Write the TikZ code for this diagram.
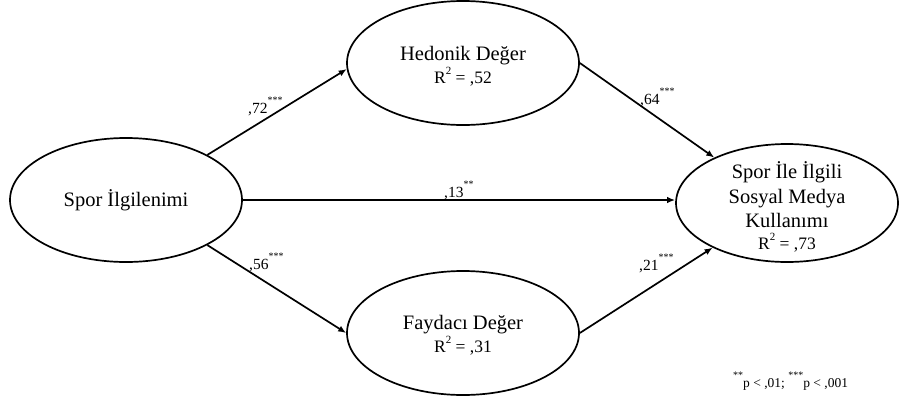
\documentclass[tikz,border=0pt]{standalone}
\usepackage{fontspec}
\setmainfont{Liberation Serif}
\usetikzlibrary{arrows.meta,shapes.geometric,calc}
\tikzset{
  latent/.style={draw, ellipse, line width=1.7pt, inner sep=0pt,
    minimum width=232pt, minimum height=124pt},
  lbl/.style={align=center, inner sep=0pt, font=\fontsize{20.5}{24.5}\selectfont},
  path/.style={line width=1.7pt, -{Latex[length=8pt,width=6.5pt]}},
  coef/.style={anchor=base west, inner sep=0pt, font=\fontsize{15.5}{18}\selectfont},
}
\newcommand{\rsq}[1]{{\fontsize{17.5}{24.5}\selectfont R\raisebox{9pt}{\fontsize{11}{11}\selectfont 2} = ,#1}}
\newcommand{\stars}[1]{\raisebox{0.6em}{\fontsize{10}{10}\selectfont #1}}
\begin{document}
\begin{tikzpicture}[x=1pt,y=-1pt]
\useasboundingbox (0,0) rectangle (899,410);
\node[latent] (L) at (126,200) {};
\node[lbl] (Lt) at (L.center) {Spor İlgilenimi};
\node[latent] (H) at (463,63) {};
\node[lbl] (Ht) at ($(H.center)+(0,3)$) {Hedonik Değer\\[-2pt]\rsq{52}};
\node[latent] (F) at (463,333) {};
\node[lbl] (Ft) at ($(F.center)+(0,2)$) {Faydacı Değer\\[-2pt]\rsq{31}};
\node[latent, minimum width=222pt, minimum height=118pt] (R) at (787,203) {};
\node[lbl] (Rt) at ($(R.center)+(0,4)$)
  {Spor İle İlgili\\Sosyal Medya\\Kullanımı\\[-3pt]\rsq{73}};

\draw[path] (L.29) -- (H.183);
\draw[path] (L.-29) -- (F.west);
\draw[path] (L.east) -- (L.east -| R.west);
\draw[path] (H.east) -- (R.148);
\draw[path] (F.east) -- (R.211);

\node[coef] (c1) at (248,113) {,72\stars{***}};
\node[coef] (c2) at (249,269) {,56\stars{***}};
\node[coef] (c3) at (444,197) {,13\stars{**}};
\node[coef] (c4) at (640,104) {,64\stars{***}};
\node[coef] (c5) at (639,270) {,21\stars{***}};
\node[anchor=base west, inner sep=0pt, font=\fontsize{13.5}{15}\selectfont] (note) at (733,387)
  {\stars{**}p < ,01; \stars{***}p < ,001};
\end{tikzpicture}
\end{document}
